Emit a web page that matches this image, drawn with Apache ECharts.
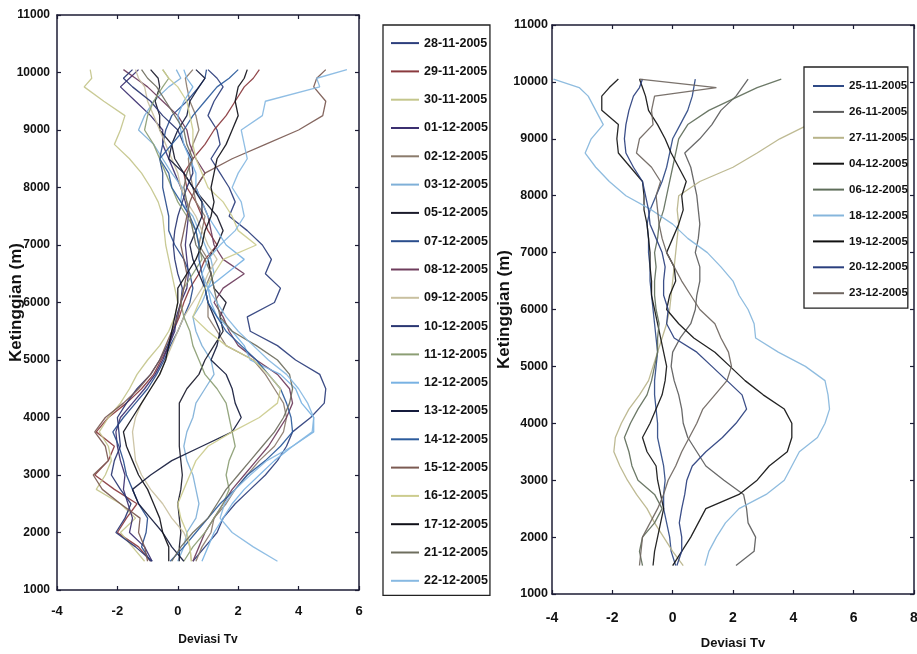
<!DOCTYPE html>
<html>
<head>
<meta charset="utf-8">
<script src="https://cdn.jsdelivr.net/npm/echarts@6/dist/echarts.min.js"></script>
<style>
html,body{margin:0;padding:0;background:#fff;}
#c{width:917px;height:654px;}
</style>
</head>
<body>
<div id="c"></div>
<script>
// Heights (m) shared by every profile
const heights = [1500,1750,2000,2250,2500,2750,3000,3250,3500,3750,4000,4250,4500,4750,5000,5250,5500,5750,6000,6250,6500,6750,7000,7250,7500,7750,8000,8250,8500,8750,9000,9250,9500,9750,9900,10050];

// Axis ticks [min, max, interval]
const yTicks = [1000,11000,1000];
const xTicksLeft = [-4,6,2];
const xTicksRight = [-4,8,2];

// ---- Left panel profiles (Deviasi Tv at each height) ----
const d28_11 = [0.5,0.9,1.3,1.5,1.9,2.4, 2.9,3.3,3.6,3.8,4.4,4.85, 4.9,4.7,3.9,3.3,2.4,2.3, 3.2,3.4,2.9,3.1,2.8,2.3, 1.7,1.9,1.7,1.4,1.1,1.4, 1.3,1.0,1.2,1.5,1.3,1.0];
const d29_11 = [-0.9,-1.3,-2.0,-1.7,-1.35,-2.1, -2.75,-2.3,-2.1,-2.7,-2.3,-1.7, -1.2,-0.8,-0.55,-0.3,-0.15,0.05, 0.2,0.4,0.7,0.9,1.3,1.0, 0.8,0.6,0.3,0.2,0.5,0.9, 1.2,1.6,1.9,2.2,2.5,2.7];
const d30_11 = [-1.1,-1.5,-1.9,-1.4,-1.9,-2.7, -2.4,-2.2,-2.3,-2.6,-2.3,-1.9, -1.6,-1.35,-1.0,-0.6,-0.3,-0.1, 0.0,-0.1,-0.2,-0.3,-0.4,-0.45, -0.5,-0.65,-0.9,-1.2,-1.6,-2.1, -1.9,-1.75,-2.45,-3.1,-2.85,-2.9];
const d01_12 = [-0.85,-1.1,-1.6,-1.5,-1.65,-1.8, -1.75,-1.9,-2.0,-2.05,-1.9,-1.5, -1.1,-0.75,-0.5,-0.3,-0.1,-0.05, 0.1,0.3,0.35,0.3,0.25,0.3, 0.35,0.25,0.1,-0.1,-0.3,-0.5, -0.5,-0.9,-1.4,-1.9,-1.6,-1.3];
const d02_12 = [0.6,0.8,1.1,1.2,1.6,1.9, 2.3,2.7,3.2,3.5,3.6,3.5, 3.2,2.9,2.5,1.6,1.3,1.0, 1.0,0.9,1.1,1.0,0.7,0.8, 0.9,0.6,0.5,0.4,0.35,0.5, 0.7,0.6,0.4,0.3,0.25,0.5];
const d03_12 = [0.0,0.2,0.3,0.6,0.7,0.6, 0.5,0.3,0.2,0.3,0.5,0.6, 0.9,1.2,1.1,0.8,0.6,0.5, 0.8,1.0,1.2,1.1,0.9,0.7, 0.5,0.1,0.15,-0.2,-0.5,-0.8, -1.3,-1.1,-0.8,-0.3,0.1,-0.05];
const d05_12 = [0.05,0.05,0.1,0.05,0.0,0.1, 0.15,0.1,0.05,0.05,0.05,0.05, 0.3,0.7,0.9,1.2,1.5,1.4, 1.6,1.2,1.1,1.0,1.3,1.5, 1.3,0.9,0.5,0.2,-0.1,-0.2, -0.6,-0.6,-0.75,-0.6,-0.65,-0.9];
const d07_12 = [-0.9,-1.2,-1.05,-1.0,-1.3,-1.5, -1.7,-1.8,-1.95,-2.15,-1.8,-1.4, -1.0,-0.7,-0.45,-0.25,0.0,0.2, 0.4,0.5,0.4,0.2,-0.1,-0.3, -0.3,-0.4,-0.5,-0.5,-0.6,-0.5, -0.4,-0.2,0.3,0.7,0.9,0.95];
const d08_12 = [0.5,0.7,0.9,1.2,1.5,1.8, 2.2,2.6,3.0,3.3,3.6,3.8, 3.7,3.3,2.6,2.0,1.7,1.5, 1.2,1.5,2.2,1.5,1.2,1.1, 1.0,0.8,0.6,0.9,0.6,0.4, 0.3,0.0,-0.5,-1.0,-1.4,-1.8];
const d09_12 = [0.45,0.4,0.2,-0.2,-0.5,-0.9, -1.2,-1.4,-1.45,-1.5,-1.4,-1.2, -0.9,-0.6,-0.4,-0.2,0.0,0.2, 0.5,0.8,1.0,1.3,1.0,0.8, 0.6,0.3,0.1,0.0,-0.2,-0.4, -0.6,-0.8,-1.0,-1.1,-1.3,-1.4];
const d10_12 = [-0.85,-1.4,-2.05,-1.75,-1.55,-1.9, -2.2,-2.1,-1.9,-1.95,-2.0,-1.7, -1.35,-0.9,-0.6,-0.35,-0.15,0.0, 0.1,0.15,0.0,-0.1,-0.15,-0.1, 0.0,0.15,0.3,0.5,0.45,0.2, 0.0,-0.5,-0.9,-1.5,-1.8,-1.5];
const d11_12 = [0.2,0.5,0.9,1.2,1.5,1.7, 1.6,1.7,1.9,1.8,1.7,1.6, 1.3,0.9,0.7,0.5,0.4,0.2, 0.1,0.2,0.5,0.8,0.7,0.6, 0.3,0.0,-0.2,-0.4,-0.6,-0.8, -1.1,-1.0,-0.8,-0.5,-0.3,-0.5];
const d12_12 = [0.8,1.0,1.2,1.5,1.8,2.2, 2.7,3.2,3.8,4.5,4.5,4.1, 3.9,3.4,2.4,2.2,1.8,1.3, 1.1,1.0,1.6,2.2,1.6,1.3, 1.0,0.8,0.6,0.6,0.4,0.2, 0.1,0.0,0.2,0.5,0.3,0.2];
const d13_12 = [0.2,-0.2,-0.5,-0.9,-1.3,-1.5, -0.9,-0.2,0.8,1.8,2.1,1.9, 1.8,1.6,1.1,1.3,1.4,1.2, 1.0,0.9,0.7,0.5,0.4,0.6, 0.8,0.8,0.5,0.2,-0.3,-0.2, 0.0,0.3,0.4,0.7,0.9,0.6];
const d14_12 = [-0.25,0.2,0.6,1.0,1.4,1.9, 2.3,2.9,3.4,3.8,3.75,3.6, 3.4,3.0,2.6,2.1,1.6,1.3, 1.0,0.9,0.8,0.7,0.7,0.6, 0.4,0.1,-0.2,-0.3,-0.6,-0.2, 0.2,0.5,0.9,1.3,1.7,2.0];
const d15_12 = [-1.0,-1.1,-1.3,-1.25,-1.9,-2.5, -2.8,-2.3,-2.4,-2.75,-2.4,-1.8, -1.3,-0.9,-0.6,-0.4,-0.2,0.0, 0.1,0.2,0.3,0.2,0.1,0.2, 0.3,0.4,0.6,0.9,1.8,2.9, 4.0,4.8,4.9,4.5,4.6,4.9];
const d16_12 = [0.45,0.4,0.3,0.1,0.0,0.2, 0.4,0.6,1.0,1.8,2.7,3.3, 3.4,3.0,2.5,1.6,1.0,0.5, 0.7,0.9,1.2,1.5,2.6,2.0, 1.8,1.5,1.0,0.8,0.6,0.5, 0.5,0.4,0.3,0.0,-0.3,-0.5];
const d17_12 = [-0.3,-0.3,-0.5,-0.6,-0.8,-1.0, -1.3,-1.5,-1.7,-1.8,-1.5,-1.2, -0.9,-0.6,-0.4,-0.3,-0.2,-0.1, 0.0,0.0,0.3,0.6,0.8,0.9, 1.1,1.2,1.1,1.2,1.3,1.6, 1.8,2.0,1.9,2.0,2.2,2.3];
const d21_12 = [-0.2,0.1,0.5,1.0,1.3,1.6, 2.0,2.4,2.8,3.2,3.5,3.7, 3.8,3.7,3.3,2.6,1.8,1.4, 1.3,1.2,1.1,0.9,0.6,0.5, 0.4,0.3,0.2,0.3,0.5,0.3, 0.2,-0.1,-0.4,-0.7,-1.0,-1.2];
const d22_12 = [3.3,2.5,1.8,1.4,1.55,1.9, 2.4,2.95,3.8,4.45,4.5,4.3, 4.0,3.6,3.0,2.5,2.0,1.6, 1.3,1.0,0.8,1.0,1.4,1.9, 2.2,2.1,1.8,2.0,2.3,2.2, 2.1,2.8,2.9,4.7,4.6,5.6];

const leftNames = ['28-11-2005','29-11-2005','30-11-2005','01-12-2005','02-12-2005','03-12-2005','05-12-2005','07-12-2005','08-12-2005','09-12-2005','10-12-2005','11-12-2005','12-12-2005','13-12-2005','14-12-2005','15-12-2005','16-12-2005','17-12-2005','21-12-2005','22-12-2005'];
const leftColors = ['#2c3e7c','#8a3a3e','#c4c68c','#3b2f70','#8b7b6c','#7fb0d8','#1b1b2b','#2a4d8c','#6e3c5c','#c9c0a0','#2a3672','#8c9e74','#78b2e3','#151b3c','#2b5b9c','#7b5a52','#cccc8e','#101018','#6e6e5e','#87b9e2'];
const leftData = [d28_11,d29_11,d30_11,d01_12,d02_12,d03_12,d05_12,d07_12,d08_12,d09_12,d10_12,d11_12,d12_12,d13_12,d14_12,d15_12,d16_12,d17_12,d21_12,d22_12];

// ---- Right panel profiles ----
const r25_11 = [0.1,-0.05,-0.1,-0.2,-0.3,-0.3, -0.25,-0.3,-0.4,-0.5,-0.5,-0.55, -0.6,-0.6,-0.55,-0.5,-0.55,-0.6, -0.65,-0.7,-0.75,-0.75,-0.8,-0.8, -0.85,-0.75,-0.55,-0.35,-0.2,-0.1, 0.0,0.25,0.5,0.65,0.7,0.75];
const r26_11 = [2.1,2.7,2.75,2.5,2.45,2.35, 1.7,1.1,0.8,0.5,0.35,0.3, 0.2,0.05,-0.05,0.0,0.25,0.6, 0.75,0.8,0.9,0.9,0.75,0.85, 0.9,0.85,0.8,0.7,0.6,0.4, 0.9,1.3,1.6,2.1,2.3,2.5];
const r27_11 = [0.35,0.0,-0.3,-0.6,-0.85,-1.2, -1.5,-1.75,-1.95,-1.9,-1.7,-1.45, -1.1,-0.8,-0.65,-0.5,-0.35,-0.2, -0.1,-0.05,0.0,0.05,0.1,0.15, 0.2,0.15,0.2,0.9,2.0,2.8, 3.55,4.5,5.2,6.0,6.5,7.0];
const r04_12 = [-0.65,-0.6,-0.5,-0.4,-0.3,-0.4, -0.5,-0.55,-0.85,-1.0,-0.75,-0.55, -0.35,-0.25,-0.2,-0.3,-0.4,-0.5, -0.6,-0.7,-0.7,-0.75,-0.75,-0.8, -0.85,-0.95,-0.95,-1.0,-1.4,-1.8, -1.85,-1.8,-2.35,-2.35,-2.1,-1.8];
const r06_12 = [-1.0,-1.1,-1.0,-0.6,-0.35,-0.6, -1.15,-1.35,-1.45,-1.6,-1.4,-1.15, -0.85,-0.7,-0.6,-0.5,-0.5,-0.45, -0.55,-0.6,-0.6,-0.55,-0.6,-0.5, -0.45,-0.3,-0.2,-0.1,0.0,0.1, 0.2,0.5,1.2,2.2,2.8,3.6];
const r18_12 = [1.07,1.2,1.45,1.75,2.2,3.1, 3.7,3.95,4.2,4.8,5.05,5.2, 5.15,5.05,4.4,3.5,2.75,2.7, 2.5,2.2,2.0,1.6,1.15,0.5, 0.0,-0.7,-1.55,-2.1,-2.55,-2.9, -2.7,-2.3,-2.55,-2.8,-3.1,-3.95];
const r19_12 = [0.0,0.3,0.6,0.85,1.1,2.2, 2.8,3.2,3.8,3.95,3.95,3.7, 3.0,2.4,1.9,1.4,0.7,0.2, -0.2,-0.1,0.1,0.05,-0.2,0.0, 0.2,0.35,0.3,0.45,0.2,-0.05, -0.25,-0.5,-0.8,-0.9,-1.0,-1.1];
const r20_12 = [0.14,0.3,0.3,0.22,0.3,0.4, 0.47,0.65,1.1,1.65,2.1,2.45, 2.3,1.8,1.3,0.8,0.05,-0.2, -0.15,-0.3,-0.3,-0.25,-0.35,-0.55, -0.75,-0.8,-0.9,-1.0,-1.3,-1.55, -1.6,-1.55,-1.45,-1.3,-1.1,-1.0];
const r23_12 = [-1.1,-1.05,-1.0,-0.75,-0.5,-0.3, -0.15,0.1,0.3,0.55,0.8,1.0, 1.4,1.8,1.95,1.85,1.6,1.4, 0.9,0.6,0.3,0.05,-0.2,-0.35, -0.45,-0.5,-0.55,-0.4,-0.7,-1.2, -1.1,-0.65,-0.7,-0.6,1.45,-1.1];

const rightNames = ['25-11-2005','26-11-2005','27-11-2005','04-12-2005','06-12-2005','18-12-2005','19-12-2005','20-12-2005','23-12-2005'];
const rightColors = ['#2f4a86','#5c5c5c','#b8b48a','#151515','#5f6e5a','#86b6dc','#101010','#2a3f7e','#6f6660'];
const rightData = [r25_11,r26_11,r27_11,r04_12,r06_12,r18_12,r19_12,r20_12,r23_12];

const FONT = "'Liberation Sans',Arial,sans-serif";
const INK = '#111';
const AX = '#1c1c34';

function mkSeries(names, colors, data, axisIdx) {
  return names.map((n, k) => ({
    name: n,
    type: 'line',
    xAxisIndex: axisIdx,
    yAxisIndex: axisIdx,
    symbol: 'none',
    animation: false,
    lineStyle: { width: 1.3, color: colors[k], opacity: 0.92 },
    itemStyle: { color: colors[k] },
    data: data[k].map((v, i) => [v, heights[i]])
  }));
}

function xAx(grid, t, pos, labels, fs, margin, nfs, gap) {
  return {
    type: 'value', gridIndex: grid, position: pos, min: t[0], max: t[1], interval: t[2],
    axisLine: { show: true, onZero: false, lineStyle: { color: AX, width: 1.5 } },
    axisTick: { show: true, inside: true, length: 4, lineStyle: { color: AX, width: 1.2 } },
    axisLabel: { show: labels, fontFamily: FONT, fontWeight: 'bold', fontSize: fs, color: INK, margin: margin,
                 formatter: v => String(v) },
    splitLine: { show: false },
    name: labels ? 'Deviasi Tv' : '',
    nameLocation: 'middle', nameGap: gap, nameMoveOverlap: false,
    nameTextStyle: { fontFamily: FONT, fontWeight: 'bold', fontSize: nfs, color: INK }
  };
}
function yAx(grid, pos, labels, fs, margin, gap) {
  return {
    type: 'value', gridIndex: grid, position: pos, min: yTicks[0], max: yTicks[1], interval: yTicks[2],
    axisLine: { show: true, onZero: false, lineStyle: { color: AX, width: 1.5 } },
    axisTick: { show: true, inside: true, length: 4, lineStyle: { color: AX, width: 1.2 } },
    axisLabel: { show: labels, fontFamily: FONT, fontWeight: 'bold', fontSize: fs, color: INK, margin: margin,
                 formatter: v => String(v) },
    splitLine: { show: false },
    name: labels ? 'Ketinggian (m)' : '',
    nameLocation: 'middle', nameRotate: 90, nameGap: gap, nameMoveOverlap: false,
    nameTextStyle: { fontFamily: FONT, fontWeight: 'bold', fontSize: 17, color: INK }
  };
}

const chart = echarts.init(document.getElementById('c'), null, { renderer: 'canvas' });
chart.setOption({
  animation: false,
  backgroundColor: '#fff',
  grid: [
    { left: 57, top: 15, width: 302, height: 575, outerBoundsMode: 'none', containLabel: false },
    { left: 552, top: 25, width: 362, height: 569, outerBoundsMode: 'none', containLabel: false }
  ],
  xAxis: [
    xAx(0, xTicksLeft, 'bottom', true, 13, 15, 12, 44),
    xAx(0, xTicksLeft, 'top', false, 13, 8, 12, 44),
    xAx(1, xTicksRight, 'bottom', true, 14, 17, 13, 43),
    xAx(1, xTicksRight, 'top', false, 14, 8, 13, 43)
  ],
  yAxis: [
    yAx(0, 'left', true, 12, 7, 32),
    yAx(0, 'right', false, 12, 7, 32),
    yAx(1, 'left', true, 12.5, 4, 39),
    yAx(1, 'right', false, 12.5, 4, 39)
  ],
  legend: [
    {
      data: leftNames, orient: 'vertical', left: 383, top: 25,
      padding: [11.6, 2, 8, 8], itemWidth: 28, itemHeight: 2, itemGap: 15.3,
      icon: 'rect',
      borderColor: '#222', borderWidth: 1.3, backgroundColor: '#fff',
      selectedMode: false,
      textStyle: { fontFamily: FONT, fontWeight: 'bold', fontSize: 12.5, color: INK }
    },
    {
      data: rightNames, orient: 'vertical', left: 804, top: 67,
      padding: [13, 0, 9, 9], itemWidth: 31, itemHeight: 2, itemGap: 13.9,
      icon: 'rect',
      borderColor: '#222', borderWidth: 1.3, backgroundColor: '#fff',
      selectedMode: false,
      textStyle: { fontFamily: FONT, fontWeight: 'bold', fontSize: 11.5, color: INK }
    }
  ],
  series: mkSeries(leftNames, leftColors, leftData, 0).concat(mkSeries(rightNames, rightColors, rightData, 2))
});
</script>
</body>
</html>
